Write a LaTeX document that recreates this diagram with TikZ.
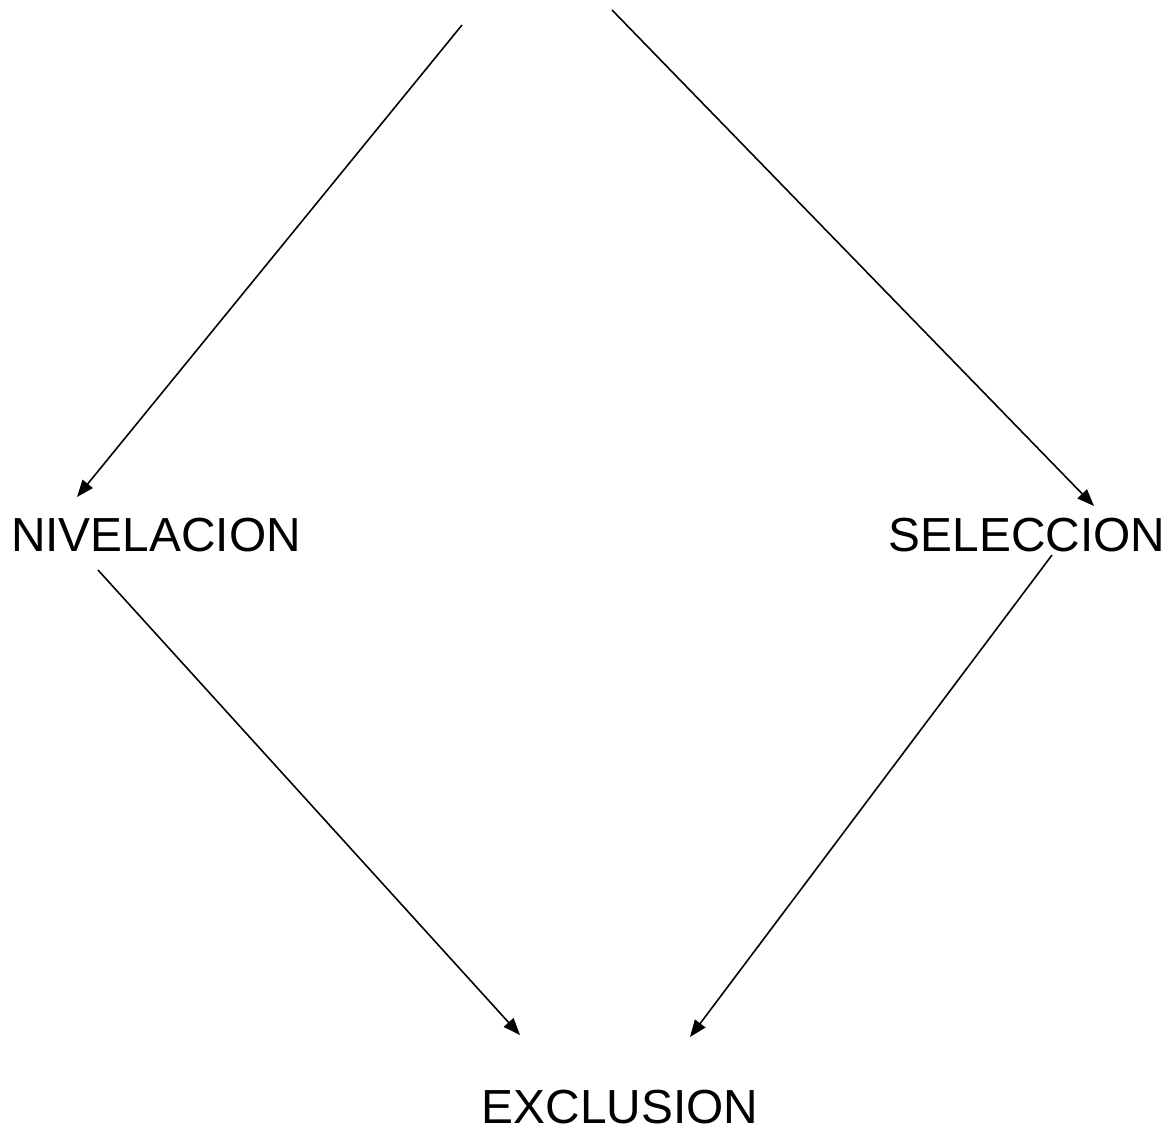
\documentclass[tikz,border=0pt]{standalone}
\usepackage{fontspec}
\setmainfont{Liberation Sans}
\usetikzlibrary{arrows.meta}
\begin{document}
\begin{tikzpicture}[x=0.01cm,y=-0.01cm,
  lbl/.style={inner sep=0pt,font=\fontsize{13.6}{16}\selectfont},
  arr/.style={-{Triangle[length=1.7mm,width=1.3mm]},line width=0.45pt}]
  \useasboundingbox (0,0) rectangle (1171,1130);
  % Labels
  \node[lbl] (niv) at (156,535) {NIVELACION};
  \node[lbl] (sel) at (1027,535) {SELECCION};
  \node[lbl] (exc) at (620,1107) {EXCLUSION};

  % Free ends at the top
  \coordinate (topl) at (462,25);
  \coordinate (topr) at (612,10);

  % Connector ends near the labels
  \coordinate (nivin) at (77,497);
  \coordinate (selin) at (1094,506);
  \coordinate (nivout) at (98,570);
  \coordinate (selout) at (1052,555);
  \coordinate (excinl) at (520,1035);
  \coordinate (excinr) at (690,1037);

  % Arrows
  \draw[arr] (topl) -- (nivin);
  \draw[arr] (topr) -- (selin);
  \draw[arr] (nivout) -- (excinl);
  \draw[arr] (selout) -- (excinr);
\end{tikzpicture}
\end{document}
